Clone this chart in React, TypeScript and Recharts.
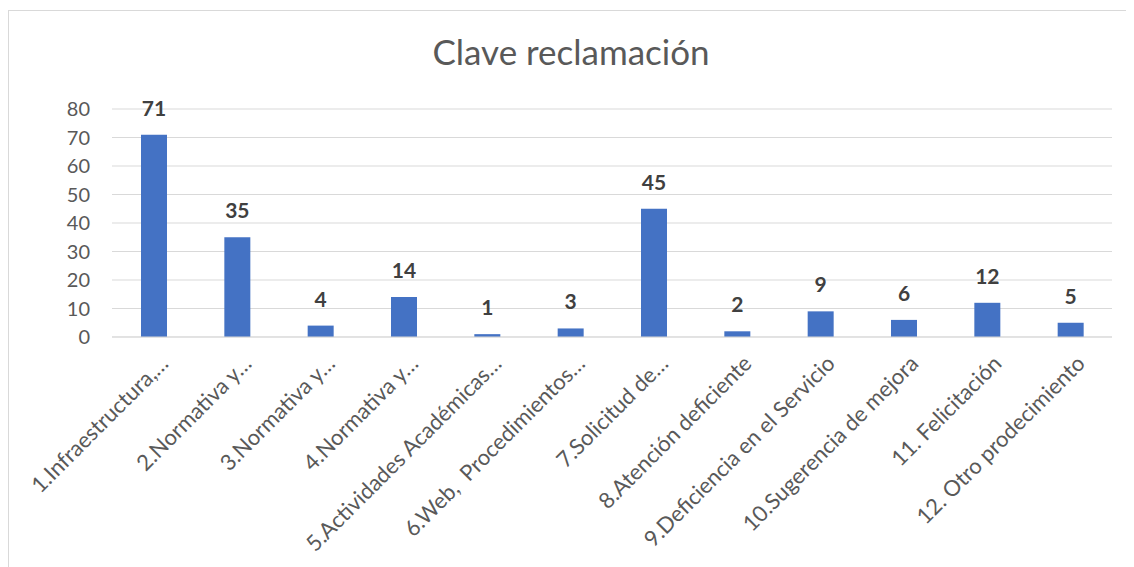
import React from 'react'
import { BarChart, Bar, XAxis, YAxis, CartesianGrid, LabelList } from 'recharts'

const categories = [
  '1.Infraestructura,…',
  '2.Normativa y…',
  '3.Normativa y…',
  '4.Normativa y…',
  '5.Actividades Académicas…',
  '6.Web,  Procedimientos…',
  '7.Solicitud de…',
  '8.Atención deficiente',
  '9.Deficiencia en el Servicio',
  '10.Sugerencia de mejora',
  '11. Felicitación',
  '12. Otro prodecimiento',
]
const counts = [71, 35, 4, 14, 1, 3, 45, 2, 9, 6, 12, 5]
const yTicks = [0, 10, 20, 30, 40, 50, 60, 70, 80]

const FONT = 'Lato, "Open Sans", sans-serif'

const data = categories.map((name, i) => ({ name, value: counts[i] }))

// etiquetas del eje X giradas -45°
function SlantTick(props: any) {
  const { x, y, payload } = props
  const ax = x + 16
  const ay = y + 20
  return (
    <text
      x={ax}
      y={ay}
      textAnchor="end"
      fill="#595959"
      fontSize={22}
      fontFamily={FONT}
      transform={`rotate(-45, ${ax}, ${ay})`}
      style={{ whiteSpace: 'pre' }}
    >
      {payload.value}
    </text>
  )
}

export default function App() {
  return (
    <div
      style={{
        position: 'relative',
        width: 1126,
        height: 559,
        marginTop: 2,
        border: '1px solid #d9d9d9',
        boxSizing: 'border-box',
        background: '#fff',
      }}
    >
      <div
        style={{
          position: 'absolute',
          left: 0,
          right: 0,
          top: 19,
          textAlign: 'center',
          fontFamily: FONT,
          fontSize: 35,
          color: '#595959',
        }}
      >
        Clave reclamación
      </div>
      <BarChart
        width={1124}
        height={557}
        data={data}
        margin={{ top: 98, right: 21, bottom: 0, left: 0 }}
      >
        <CartesianGrid vertical={false} stroke="#d9d9d9" />
        <XAxis
          dataKey="name"
          height={231}
          interval={0}
          tickLine={false}
          axisLine={{ stroke: '#d9d9d9' }}
          tick={<SlantTick />}
        />
        <YAxis
          width={103}
          domain={[0, 80]}
          ticks={yTicks}
          tickLine={false}
          axisLine={false}
          tickSize={0}
          tickMargin={22}
          tick={{ fill: '#595959', fontSize: 20, fontFamily: FONT }}
        />
        <Bar dataKey="value" fill="#4472c4" barSize={26} isAnimationActive={false}>
          <LabelList
            dataKey="value"
            position="top"
            offset={19}
            fill="#404040"
            fontSize={21}
            fontWeight="bold"
            fontFamily={FONT}
          />
        </Bar>
      </BarChart>
    </div>
  )
}
